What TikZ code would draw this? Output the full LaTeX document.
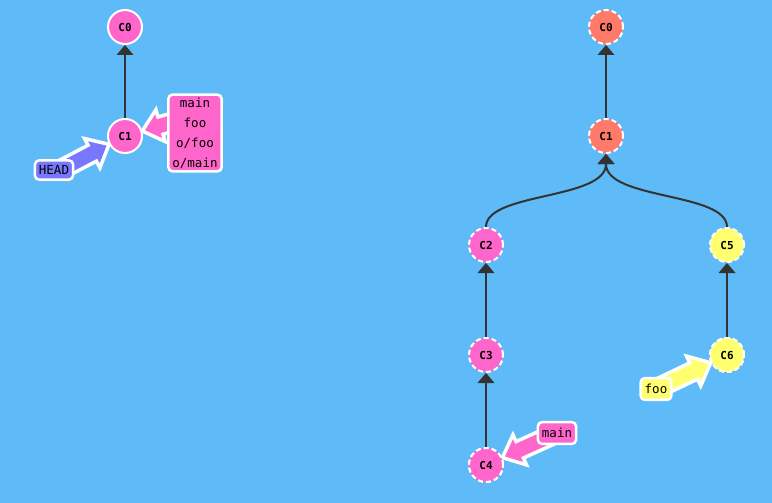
\documentclass[tikz,border=0pt]{standalone}
\usepackage{fontspec}
\setmonofont{DejaVu Sans Mono}
\usetikzlibrary{arrows.meta,calc}
\definecolor{bg}{RGB}{94,187,248}
\definecolor{cpink}{RGB}{255,102,204}
\definecolor{csalmon}{RGB}{255,122,104}
\definecolor{cyellow}{RGB}{255,255,112}
\definecolor{chead}{RGB}{120,120,255}
\definecolor{edgec}{RGB}{51,51,51}
\tikzset{
  commit/.style={circle, minimum size=34pt, inner sep=0pt, draw=white, line width=2pt, fill=#1,
    font=\ttfamily\bfseries\fontsize{11}{12}\selectfont, text=black},
  ghost/.style={dash pattern=on 5pt off 3pt},
  label/.style={rounded corners=4pt, draw=white, line width=2.5pt, fill=#1, inner xsep=4pt, inner ysep=6pt,
    font=\ttfamily\fontsize{12.5}{20}\selectfont, text=black, align=center},
  parent/.style={draw=edgec, line width=2pt, -{Triangle[length=10pt,width=17pt,line width=0pt]}},
  brshape/.style={fill=#1, draw=white, line width=3.5pt, line join=miter, miter limit=20},
}
% branch arrow: colour, from (coordinate/node), to (commit node)
\newcommand\brarrow[3]{%
  \path ($(#3)!18pt!(#2)$) coordinate (tp) ($(tp)!19pt!(#2)$) coordinate (bp);
  \draw[brshape=#1] (tp) -- ($(bp)!16.5pt!90:(tp)$) -- ($(bp)!9pt!90:(tp)$)
    -- ($(#2)!9pt!90:(tp)$) -- ($(#2)!9pt!-90:(tp)$)
    -- ($(bp)!9pt!-90:(tp)$) -- ($(bp)!16.5pt!-90:(tp)$) -- cycle;
}
\begin{document}
\begin{tikzpicture}[x=1pt,y=-1pt]
\fill[bg] (0,0) rectangle (772,503);
\useasboundingbox (0,0) rectangle (772,503);
% left
\node[commit=cpink] (L0) at (125,27) {C0};
\draw[parent] (125,136) coordinate (L1c) (L1c) ++(0,-18) -- (L0);
\coordinate (hs) at (64,168);
\coordinate (ls) at (180,120);
\brarrow{chead}{hs}{L1c}
\brarrow{cpink}{ls}{L1c}
\node[commit=cpink] (L1) at (125,136) {C1};
\node[label=chead, inner ysep=5pt] (HEAD) at (54,170) {HEAD};
\node[label=cpink, inner ysep=3pt] (LB) at (195,133) {main\\foo\\o/foo\\o/main};
% right
\node[commit=csalmon, ghost] (R0) at (606,27) {C0};
\node[commit=csalmon, ghost] (R1) at (606,136) {C1};
\node[commit=cpink, ghost] (R2) at (486,245) {C2};
\node[commit=cyellow, ghost] (R5) at (727,245) {C5};
\node[commit=cpink, ghost] (R3) at (486,355) {C3};
\node[commit=cyellow, ghost] (R6) at (727,355) {C6};
\node[commit=cpink, ghost] (R4) at (486,465) {C4};
\draw[parent] (R1) -- (R0);
\draw[parent] (R2.north) .. controls (486,192) and (606,200) .. (R1.south);
\draw[parent] (R5.north) .. controls (727,192) and (606,200) .. (R1.south);
\draw[parent] (R3) -- (R2);
\draw[parent] (R6) -- (R5);
\draw[parent] (R4) -- (R3);
\coordinate (MBc) at (557,433);
\coordinate (FBc) at (656,389);
\brarrow{cpink}{MBc}{R4}
\brarrow{cyellow}{FBc}{R6}
\node[commit=cpink, ghost] at (486,465) {C4};
\node[commit=cyellow, ghost] at (727,355) {C6};
\node[label=cpink] (MB) at (MBc) {main};
\node[label=cyellow] (FB) at (FBc) {foo};
\end{tikzpicture}
\end{document}
